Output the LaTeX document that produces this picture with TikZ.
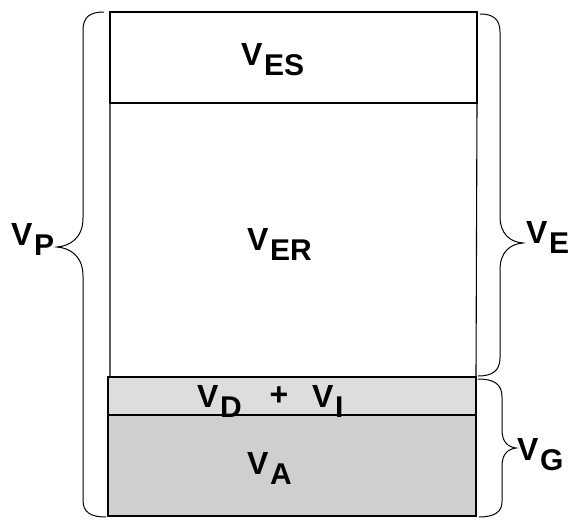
\documentclass[tikz,border=0pt]{standalone}
\usepackage{fontspec}
\setmainfont{Liberation Sans}[BoldFont={Liberation Sans Bold}]
\tikzset{
  lbl/.style={font=\fontsize{32}{32}\selectfont\bfseries, inner sep=0pt, anchor=base west},
  brc/.style={draw=black, line width=1pt, fill=none},
  cell/.style={draw=black, line width=1.1pt},
}
\newcommand{\Vsub}[1]{\textbf{V\kern1.5pt\raisebox{-10.5pt}{\fontsize{30}{30}\selectfont\bfseries #1}}}
\begin{document}
\begin{tikzpicture}[x=1pt,y=-1pt]
\useasboundingbox (0,0) rectangle (568,520);
% cells
\fill[gray!27] (108,377) rectangle (476,415);
\fill[gray!38] (108,415) rectangle (476,516);
\draw[cell] (110,12) rectangle (477,103);
\draw[cell] (110,103) -- (110,377) -- (476,377) -- (477,103);
\draw[cell] (108,377) rectangle (476,415);
\draw[cell] (108,415) rectangle (476,516);
% labels (base west anchors)
\node[lbl] (ves) at (241,65) {\Vsub{ES}};
\node[lbl] (ver) at (247,250) {\Vsub{ER}};
\node[lbl] (vd) at (197,407) {\Vsub{D}};
\node[lbl, anchor=base] (plus) at (279,405) {\textbf{+}};
\node[lbl] (vi) at (312,407) {\Vsub{I}};
\node[lbl] (va) at (247,474) {\Vsub{A}};
\node[lbl] (vp) at (11,245) {\Vsub{P}};
\node[lbl] (ve) at (526,243) {\Vsub{E}};
\node[lbl] (vg) at (517,460) {\Vsub{G}};
% left brace
\coordinate (lt) at (104,12);
\coordinate (lb) at (106,517);
\coordinate (ltip) at (57,247);
\draw[brc] (lt) .. controls (90,12) and (83,17) .. (83,30)
  -- (83,218) .. controls (83,238) and (70,246) .. (ltip)
  .. controls (70,248) and (83,256) .. (83,276)
  -- (83,500) .. controls (83,512) and (90,517) .. (lb);
% right upper brace
\coordinate (rt) at (480,14);
\coordinate (rb) at (478,376);
\coordinate (rtip) at (523,243);
\draw[brc] (rt) .. controls (493,14) and (500,19) .. (500,32)
  -- (500,216) .. controls (500,234) and (510,242) .. (rtip)
  .. controls (510,244) and (500,252) .. (500,270)
  -- (500,358) .. controls (500,371) and (492,376) .. (rb);
% right lower brace
\coordinate (gt) at (478,379);
\coordinate (gb) at (479,517);
\coordinate (gtip) at (516,448);
\draw[brc] (gt) .. controls (494,379) and (502,384) .. (502,397)
  -- (502,430) .. controls (502,442) and (508,447) .. (gtip)
  .. controls (508,449) and (502,454) .. (502,466)
  -- (502,502) .. controls (502,512) and (494,517) .. (gb);
\end{tikzpicture}
\end{document}
